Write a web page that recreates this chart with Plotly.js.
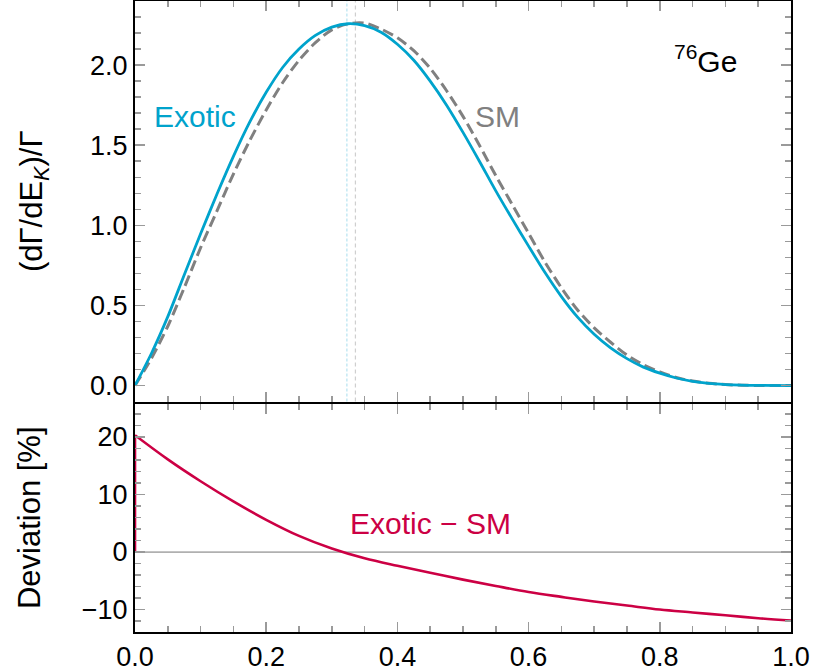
<!DOCTYPE html>
<html>
<head>
<meta charset="utf-8">
<script src="https://cdn.plot.ly/plotly-3.0.1.min.js"></script>
<style>html,body{margin:0;padding:0;background:#fff;}#chart{width:830px;height:672px;}</style>
</head>
<body>
<div id="chart"></div>
<script>
// Energy fraction E_K / Q
const xSpec = [0, 0.025, 0.05, 0.075, 0.1, 0.125, 0.15, 0.175, 0.2, 0.225, 0.25, 0.275, 0.3, 0.325, 0.35, 0.375, 0.4, 0.425, 0.45, 0.475, 0.5, 0.525, 0.55, 0.575, 0.6, 0.625, 0.65, 0.675, 0.7, 0.725, 0.75, 0.775, 0.8, 0.825, 0.85, 0.875, 0.9, 0.925, 0.95, 1.0];
// Standard Model normalized spectrum (dashed gray)
const smSpec = [0, 0.17, 0.37, 0.61, 0.86, 1.09, 1.32, 1.53, 1.72, 1.89, 2.03, 2.14, 2.22, 2.258, 2.262, 2.225, 2.17, 2.09, 1.98, 1.84, 1.68, 1.50, 1.31, 1.13, 0.95, 0.77, 0.61, 0.47, 0.36, 0.27, 0.19, 0.13, 0.085, 0.05, 0.028, 0.014, 0.006, 0.002, 0.0005, 0];
// Exotic normalized spectrum (solid blue)
const exoticSpec = [0, 0.2, 0.43, 0.69, 0.947, 1.195, 1.43, 1.645, 1.83, 1.985, 2.10, 2.185, 2.237, 2.258, 2.246, 2.205, 2.13, 2.03, 1.90, 1.75, 1.58, 1.40, 1.215, 1.04, 0.87, 0.705, 0.555, 0.425, 0.32, 0.235, 0.168, 0.115, 0.077, 0.047, 0.026, 0.013, 0.006, 0.002, 0.0005, 0];
// Deviation Exotic - SM in percent
const xDev = [0, 0.05, 0.1, 0.15, 0.2, 0.25, 0.3, 0.35, 0.4, 0.45, 0.5, 0.55, 0.6, 0.65, 0.7, 0.75, 0.8, 0.85, 0.9, 0.95, 1.0];
const devPct = [20.3, 16.1, 12.3, 8.8, 5.6, 2.8, 0.6, -1.1, -2.4, -3.6, -4.8, -5.9, -6.95, -7.8, -8.6, -9.3, -10.0, -10.5, -11.0, -11.5, -11.9];
// Vertical edge of the deviation curve at E_K = 0
const xDevEdge = [0, 0];
const devEdge = [0, 20.3];
// Peak positions
const peakExotic = 0.323;
const peakSM = 0.336;
// Tick labels
const xTicks = [0, 0.2, 0.4, 0.6, 0.8, 1.0];
const xTickText = ['0.0', '0.2', '0.4', '0.6', '0.8', '1.0'];

const cBlue = '#00A3CC';
const cGray = '#808080';
const cRed = '#CC0044';
const font = 'Liberation Sans, Arial, sans-serif';

const traces = [
  {x: xSpec, y: smSpec, xaxis: 'x', yaxis: 'y', mode: 'lines', line: {color: cGray, width: 3, dash: '11px,5px', shape: 'spline', smoothing: 0.8}, hoverinfo: 'skip'},
  {x: xSpec, y: exoticSpec, xaxis: 'x', yaxis: 'y', mode: 'lines', line: {color: cBlue, width: 2.8, shape: 'spline', smoothing: 0.8}, hoverinfo: 'skip'},
  {x: xDevEdge, y: devEdge, xaxis: 'x2', yaxis: 'y2', mode: 'lines', line: {color: cRed, width: 2.6}, hoverinfo: 'skip'},
  {x: xDev, y: devPct, xaxis: 'x2', yaxis: 'y2', mode: 'lines', line: {color: cRed, width: 2.6, shape: 'spline', smoothing: 1}, hoverinfo: 'skip'}
];

const tc = '#9a9a9a';
const tickCommon = {
  ticks: 'inside', tickcolor: tc, tickwidth: 1.5,
  showline: true, linecolor: '#000', linewidth: 2, mirror: 'allticks',
  showgrid: false, zeroline: false,
  tickfont: {family: font, size: 27, color: '#000'}
};
const minorX = {dtick: 0.05, tick0: 0, ticklen: 6, tickcolor: tc, ticks: 'inside', tickwidth: 1.5, showgrid: false};

const layout = {
  width: 830, height: 672,
  margin: {l: 135, r: 39, t: 1, b: 40},
  paper_bgcolor: '#fff', plot_bgcolor: '#fff',
  showlegend: false,
  font: {family: font, color: '#000'},
  xaxis: Object.assign({}, tickCommon, {
    anchor: 'y', range: [0, 1], matches: 'x2', showticklabels: false,
    tickvals: xTicks, ticklen: 10, minor: minorX
  }),
  xaxis2: Object.assign({}, tickCommon, {
    anchor: 'y2', range: [0, 1],
    tickvals: xTicks, ticktext: xTickText, ticklen: 10, minor: minorX
  }),
  yaxis: Object.assign({}, tickCommon, {
    domain: [0.3652, 1], range: [-0.1, 2.4], anchor: 'x',
    dtick: 0.5, tick0: 0, tickformat: '.1f', ticklen: 10,
    minor: {dtick: 0.1, tick0: 0, ticklen: 6, tickcolor: tc, ticks: 'inside', tickwidth: 1.5, showgrid: false},
    title: {text: '(dΓ/dE<sub><i>K</i></sub>)/Γ', font: {family: font, size: 31, color: '#000'}, standoff: 38}
  }),
  yaxis2: Object.assign({}, tickCommon, {
    domain: [0, 0.362], range: [-13.9, 25.8], anchor: 'x2',
    dtick: 10, tick0: 0, ticklen: 10,
    minor: {dtick: 2, tick0: 0, ticklen: 6, tickcolor: tc, ticks: 'inside', tickwidth: 1.5, showgrid: false},
    title: {text: 'Deviation [%]', font: {family: font, size: 31, color: '#000'}, standoff: 32}
  }),
  shapes: [
    {type: 'line', xref: 'x', yref: 'y domain', x0: peakExotic, x1: peakExotic, y0: 0, y1: 1, line: {color: '#b5e3f0', width: 1.2, dash: '3px,2px'}, layer: 'below'},
    {type: 'line', xref: 'x', yref: 'y domain', x0: peakSM, x1: peakSM, y0: 0, y1: 1, line: {color: '#cfcfcf', width: 1.2, dash: '4px,3px'}, layer: 'below'},
    {type: 'line', xref: 'x2 domain', yref: 'y2', x0: 0, x1: 1, y0: 0, y1: 0, line: {color: '#b0b0b0', width: 1.8}, layer: 'below'}
  ],
  annotations: [
    {xref: 'x', yref: 'y', x: 0.092, y: 1.68, text: 'Exotic', showarrow: false, font: {family: font, size: 30, color: cBlue}},
    {xref: 'x', yref: 'y', x: 0.553, y: 1.68, text: 'SM', showarrow: false, font: {family: font, size: 30, color: cGray}},
    {xref: 'x', yref: 'y', x: 0.869, y: 2.035, text: '<sup>76</sup>Ge', showarrow: false, font: {family: font, size: 30, color: '#000'}},
    {xref: 'x2', yref: 'y2', x: 0.45, y: 4.9, text: 'Exotic − SM', showarrow: false, font: {family: font, size: 30, color: cRed}}
  ]
};

Plotly.newPlot('chart', traces, layout, {displayModeBar: false, staticPlot: true});
</script>
</body>
</html>
